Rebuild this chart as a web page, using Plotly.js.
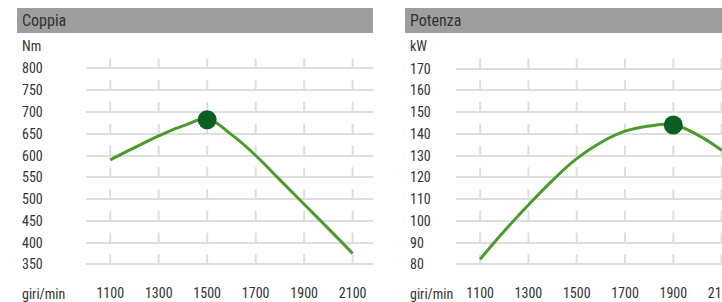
<!DOCTYPE html>
<html>
<head>
<meta charset="utf-8">
<script src="https://cdn.plot.ly/plotly-3.0.1.min.js"></script>
<style>
  html, body { margin: 0; padding: 0; background: #fff; }
  #chart { width: 722px; height: 302px; }
</style>
</head>
<body>
<div id="chart"></div>
<script>
// ---- data ----
const rpm        = [1100, 1200, 1300, 1400, 1500, 1600, 1700, 1800, 1900, 2000, 2100];
const torqueNm   = [590, 618, 645, 668, 682, 648, 600, 544, 488, 432, 375];
const powerKw    = [82.3, 95.3, 107.3, 118.6, 128.6, 136.0, 141.2, 143.6, 144.0, 139.5, 132.4];
const xTicks     = [1100, 1300, 1500, 1700, 1900, 2100];
const torqueTicks = [350, 400, 450, 500, 550, 600, 650, 700, 750, 800];
const powerTicks  = [80, 90, 100, 110, 120, 130, 140, 150, 160, 170];
const titles     = ['Coppia', 'Potenza'];
const units      = ['Nm', 'kW'];
const xUnit      = 'giri/min';

// ---- style ----
const W = 722, H = 302;
const FONT = 'Roboto Condensed, Liberation Sans Narrow, Roboto, sans-serif';
const TXT = '#333333';
const LINE_COL = '#4b9a2c';
const DOT_COL = '#0b5e1f';
const GRID_COL = '#dedede';
const px = v => v / W;
const py = v => 1 - v / H;

function peakIndex(arr) {
  let k = 0;
  arr.forEach((v, i) => { if (v > arr[k]) k = i; });
  return k;
}

const tk = peakIndex(torqueNm);
const pk = peakIndex(powerKw);

const traces = [
  { x: rpm, y: torqueNm, xaxis: 'x', yaxis: 'y', mode: 'lines',
    line: { color: LINE_COL, width: 3, shape: 'spline', smoothing: 1.3 }, hoverinfo: 'skip' },
  { x: [rpm[tk]], y: [torqueNm[tk]], xaxis: 'x', yaxis: 'y', mode: 'markers',
    marker: { color: DOT_COL, size: 19 }, cliponaxis: false, hoverinfo: 'skip' },
  { x: rpm, y: powerKw, xaxis: 'x2', yaxis: 'y2', mode: 'lines',
    line: { color: LINE_COL, width: 3, shape: 'spline', smoothing: 1.3 }, hoverinfo: 'skip' },
  { x: [rpm[pk]], y: [powerKw[pk]], xaxis: 'x2', yaxis: 'y2', mode: 'markers',
    marker: { color: DOT_COL, size: 19 }, cliponaxis: false, hoverinfo: 'skip' }
];

const panels = [
  { xa: 'x', ya: 'y', ticks: torqueTicks, left: 17, right: 373, textX: 22 },
  { xa: 'x2', ya: 'y2', ticks: powerTicks, left: 405, right: 722, textX: 410 }
];

const shapes = [];
const annotations = [];

panels.forEach((p, i) => {
  // header bar
  shapes.push({ type: 'rect', xref: 'paper', yref: 'paper',
    x0: px(p.left), x1: px(p.right), y0: py(33), y1: py(8),
    fillcolor: '#9e9e9e', line: { width: 0 }, layer: 'below' });
  annotations.push({ xref: 'paper', yref: 'paper', x: px(p.textX - 2), y: py(20.5),
    xanchor: 'left', yanchor: 'middle', showarrow: false, text: titles[i],
    font: { family: FONT, size: 16, color: TXT } });
  // unit label
  annotations.push({ xref: 'paper', yref: 'paper', x: px(p.textX - 2), y: py(46),
    xanchor: 'left', yanchor: 'middle', showarrow: false, text: units[i],
    font: { family: FONT, size: 14, color: TXT } });
  // x unit label
  annotations.push({ xref: 'paper', yref: 'paper', x: px(p.textX - 2), y: py(294),
    xanchor: 'left', yanchor: 'middle', showarrow: false, text: xUnit,
    font: { family: FONT, size: 14, color: TXT } });
  // y tick labels (left aligned) and small vertical tick marks above gridlines
  p.ticks.forEach(v => {
    annotations.push({ xref: 'paper', yref: p.ya, x: px(p.textX - 2), y: v,
      xanchor: 'left', yanchor: 'middle', showarrow: false, text: String(v),
      font: { family: FONT, size: 14, color: TXT } });
    xTicks.forEach(xv => {
      shapes.push({ type: 'line', xref: p.xa, yref: p.ya,
        x0: xv, x1: xv, ysizemode: 'pixel', yanchor: v, y0: 0, y1: 10,
        line: { color: GRID_COL, width: 2 }, layer: 'below' });
    });
  });
});

const yDomain = [1 - 266 / H, 1 - 58 / H];
const xCommon = {
  tickvals: xTicks, ticktext: xTicks.map(String), ticks: '', showgrid: false,
  zeroline: false, showline: false, fixedrange: true, ticklabelstandoff: 17,
  ticklabeloverflow: 'allow',
  tickfont: { family: FONT, size: 14, color: TXT }
};
const yCommon = {
  showgrid: true, gridcolor: GRID_COL, gridwidth: 2, zeroline: false,
  showline: false, showticklabels: false, ticks: '', domain: yDomain, fixedrange: true
};

const layout = {
  width: W, height: H,
  margin: { l: 0, r: 0, t: 0, b: 0 },
  paper_bgcolor: '#ffffff', plot_bgcolor: 'rgba(0,0,0,0)',
  showlegend: false,
  font: { family: FONT, color: TXT },
  xaxis: Object.assign({}, xCommon, { domain: [86 / W, 373 / W], range: [1000, 2184], anchor: 'y' }),
  yaxis: Object.assign({}, yCommon, { tickvals: torqueTicks, range: [346.1, 824.1], anchor: 'x' }),
  xaxis2: Object.assign({}, xCommon, { domain: [456 / W, 1], range: [1000, 2101.6], anchor: 'y2' }),
  yaxis2: Object.assign({}, yCommon, { tickvals: powerTicks, range: [79.22, 174.83], anchor: 'x2' }),
  shapes: shapes,
  annotations: annotations
};

Plotly.newPlot('chart', traces, layout, { staticPlot: true, displayModeBar: false });
</script>
</body>
</html>
